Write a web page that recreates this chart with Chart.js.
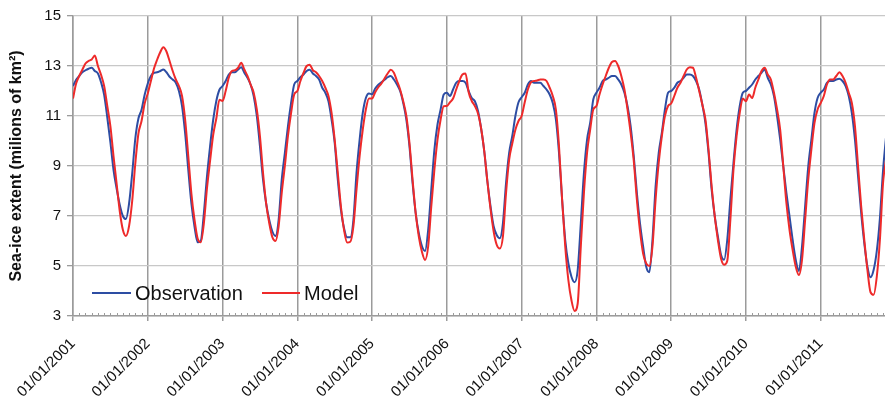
<!DOCTYPE html>
<html>
<head>
<meta charset="utf-8">
<script src="https://cdn.jsdelivr.net/npm/chart.js@4.4.1/dist/chart.umd.min.js"></script>
<style>
  html, body { margin: 0; padding: 0; background: #fff; }
  #wrap { width: 885px; height: 401px; }
</style>
</head>
<body>
<div id="wrap"><canvas id="chart" width="885" height="401"></canvas></div>
<script>
// years shown on the x axis (label "01/01/yyyy" at each)
var years = [2001, 2002, 2003, 2004, 2005, 2006, 2007, 2008, 2009, 2010, 2011];
var stepsPerYear = 24; // values read every half month from 01/01/2001
var xEnd = 2011.86;

// sea-ice extent, millions of km2, one row per year
var observation = [
  12.2, 12.45, 12.6, 12.75, 12.83, 12.89, 12.93, 12.8, 12.7, 12.35, 11.85, 10.95, 9.95, 8.85, 8.1, 7.45, 7.0, 6.88, 7.5, 8.7, 10.1, 10.9, 11.25, 11.85,
  12.3, 12.6, 12.73, 12.75, 12.8, 12.86, 12.75, 12.57, 12.46, 12.33, 12.0, 11.4, 10.3, 8.85, 7.5, 6.58, 5.95, 6.0, 7.1, 8.58, 9.79, 10.85, 11.6, 12.05,
  12.2, 12.4, 12.66, 12.75, 12.75, 12.86, 12.95, 12.73, 12.53, 12.26, 11.8, 11.0, 9.8, 8.45, 7.5, 6.84, 6.38, 6.2, 6.84, 8.45, 9.52, 10.6, 11.52, 12.26,
  12.4, 12.55, 12.66, 12.8, 12.85, 12.7, 12.6, 12.46, 12.13, 11.93, 11.59, 10.86, 9.92, 8.45, 7.25, 6.51, 6.15, 6.15, 6.84, 8.72, 10.05, 11.12, 11.72, 11.9,
  11.87, 12.1, 12.25, 12.35, 12.45, 12.55, 12.6, 12.46, 12.26, 12.0, 11.52, 10.86, 9.79, 8.32, 7.11, 6.31, 5.8, 5.6, 6.44, 8.05, 9.65, 10.66, 11.26, 11.86,
  11.93, 11.8, 12.06, 12.33, 12.4, 12.4, 12.33, 12.0, 11.72, 11.59, 11.2, 10.5, 9.6, 8.4, 7.4, 6.6, 6.24, 6.11, 6.71, 8.32, 9.52, 10.2, 11.0, 11.55,
  11.75, 11.93, 12.26, 12.4, 12.33, 12.33, 12.33, 12.2, 12.06, 11.86, 11.52, 10.86, 9.52, 7.65, 6.04, 5.11, 4.57, 4.35, 4.84, 6.71, 8.72, 10.05, 10.72, 11.66,
  11.93, 12.13, 12.4, 12.46, 12.53, 12.6, 12.6, 12.46, 12.26, 11.93, 11.39, 10.59, 9.39, 7.92, 6.71, 5.78, 4.97, 4.75, 6.04, 8.18, 9.52, 10.32, 11.26, 11.93,
  12.0, 12.13, 12.33, 12.4, 12.53, 12.66, 12.66, 12.6, 12.4, 12.06, 11.46, 10.72, 9.52, 8.05, 6.98, 6.18, 5.45, 5.25, 6.04, 7.65, 9.12, 10.45, 11.39, 11.93,
  12.0, 12.13, 12.26, 12.46, 12.6, 12.73, 12.86, 12.53, 12.26, 11.8, 11.0, 10.05, 8.98, 7.92, 6.98, 6.04, 5.24, 4.8, 5.78, 7.38, 8.98, 10.05, 11.12, 11.72,
  11.93, 12.06, 12.33, 12.4, 12.4, 12.46, 12.49, 12.4, 12.2, 11.8, 11.12, 10.05, 8.58, 7.11, 5.9, 4.97, 4.55, 4.85, 5.6, 6.9, 8.8, 10.2
];

var model = [
  11.7, 12.3, 12.6, 12.85, 13.1, 13.2, 13.26, 13.42, 13.0, 12.65, 12.2, 11.4, 10.6, 9.4, 8.3, 7.2, 6.45, 6.2, 6.6, 7.6, 9.1, 10.3, 10.8, 11.5,
  11.9, 12.4, 12.9, 13.25, 13.55, 13.75, 13.58, 13.2, 12.8, 12.46, 12.2, 11.8, 10.85, 9.4, 7.9, 6.85, 6.1, 5.95, 6.7, 8.1, 9.2, 10.25, 10.9, 11.65,
  11.6, 12.0, 12.53, 12.8, 12.83, 12.93, 13.13, 12.86, 12.6, 12.26, 11.93, 11.26, 10.2, 8.72, 7.5, 6.71, 6.15, 6.0, 6.58, 7.92, 9.0, 10.2, 11.12, 11.86,
  12.0, 12.4, 12.73, 13.0, 13.05, 12.83, 12.75, 12.6, 12.4, 12.13, 11.8, 11.12, 10.05, 8.72, 7.38, 6.44, 5.94, 5.97, 6.58, 8.05, 9.39, 10.45, 11.26, 11.7,
  11.7, 11.95, 12.15, 12.3, 12.5, 12.7, 12.85, 12.73, 12.4, 12.06, 11.59, 11.0, 9.92, 8.45, 7.11, 6.18, 5.57, 5.24, 5.78, 7.38, 8.85, 10.05, 10.86, 11.39,
  11.4, 11.55, 11.7, 12.06, 12.4, 12.66, 12.7, 11.95, 11.6, 11.4, 11.1, 10.5, 9.6, 8.4, 7.3, 6.4, 5.85, 5.7, 6.18, 7.92, 9.25, 9.9, 10.45, 10.8,
  11.0, 11.55, 12.06, 12.35, 12.4, 12.42, 12.46, 12.46, 12.4, 12.13, 11.8, 11.26, 9.79, 7.65, 5.78, 4.44, 3.63, 3.2, 3.5, 5.78, 7.92, 9.52, 10.45, 11.26,
  11.4, 11.86, 12.26, 12.6, 12.93, 13.16, 13.2, 13.0, 12.6, 12.06, 11.26, 10.32, 9.2, 7.65, 6.4, 5.5, 5.1, 5.0, 5.78, 7.65, 9.12, 10.19, 11.0, 11.4,
  11.5, 11.8, 12.13, 12.33, 12.6, 12.86, 12.95, 12.93, 12.53, 12.0, 11.46, 10.86, 9.65, 8.18, 6.98, 6.04, 5.3, 5.05, 5.2, 6.84, 8.85, 10.19, 11.12, 11.7,
  11.59, 11.86, 11.72, 12.13, 12.46, 12.8, 12.93, 12.66, 12.46, 11.93, 11.26, 10.45, 8.98, 7.51, 6.44, 5.64, 4.97, 4.64, 5.24, 6.84, 8.45, 9.65, 10.72, 11.26,
  11.52, 11.8, 12.26, 12.46, 12.46, 12.6, 12.75, 12.6, 12.33, 11.93, 11.52, 10.59, 8.98, 7.38, 6.04, 4.84, 3.95, 3.85, 4.57, 6.04, 8.3, 9.3
];

function toPoints(values) {
  return values.map(function(v, i) {
    return { x: years[0] + i / stepsPerYear, y: v };
  });
}

var fontFamily = "'Liberation Sans', Arial, Helvetica, sans-serif";

// legend inside the plot + monthly minor ticks on the bottom axis
var extras = {
  id: 'extras',
  afterDraw: function(chart) {
    var ctx = chart.ctx;
    var area = chart.chartArea;
    var xs = chart.scales.x;
    ctx.save();
    ctx.strokeStyle = '#9b9b9b';
    ctx.lineWidth = 1;
    for (var y = years[0]; y <= xEnd; y++) {
      for (var m = 1; m < 12; m++) {
        var v = y + m / 12;
        if (v > xEnd) break;
        var px = Math.round(xs.getPixelForValue(v)) + 0.5;
        ctx.beginPath();
        ctx.moveTo(px, area.bottom - 3);
        ctx.lineTo(px, area.bottom);
        ctx.stroke();
      }
    }

    var entries = [{ x: 19, w: 39 }, { x: 189, w: 38 }];
    var ly = area.bottom - 23;
    ctx.font = '20px ' + fontFamily;
    ctx.textBaseline = 'middle';
    ctx.fillStyle = '#111';
    chart.data.datasets.forEach(function(ds, i) {
      var e = entries[i];
      ctx.strokeStyle = ds.borderColor;
      ctx.lineWidth = 2;
      ctx.beginPath();
      ctx.moveTo(area.left + e.x, ly);
      ctx.lineTo(area.left + e.x + e.w, ly);
      ctx.stroke();
      ctx.fillText(ds.label, area.left + e.x + e.w + 4, ly + 1);
    });
    ctx.restore();
  }
};

new Chart(document.getElementById('chart'), {
  type: 'line',
  data: {
    datasets: [
      {
        label: 'Observation',
        data: toPoints(observation),
        borderColor: '#2d4da3',
        borderWidth: 2,
        pointRadius: 0,
        cubicInterpolationMode: 'monotone',
        order: 1
      },
      {
        label: 'Model',
        data: toPoints(model),
        borderColor: '#ee2a2a',
        borderWidth: 2,
        pointRadius: 0,
        cubicInterpolationMode: 'monotone',
        order: 0
      }
    ]
  },
  options: {
    responsive: false,
    animation: false,
    layout: { padding: { left: 0, top: 16, right: 0, bottom: 0 } },
    plugins: {
      legend: { display: false },
      tooltip: { enabled: false }
    },
    scales: {
      x: {
        type: 'linear',
        min: years[0],
        max: xEnd,
        afterBuildTicks: function(scale) {
          scale.ticks = years.map(function(y) { return { value: y }; });
        },
        afterFit: function(scale) { scale.height = 85; },
        ticks: {
          minRotation: 45,
          maxRotation: 45,
          padding: 14,
          color: '#111',
          font: { family: fontFamily, size: 15 },
          callback: function(v) { return '01/01/' + v; }
        },
        grid: { color: '#9b9b9b', lineWidth: 1.5, tickLength: 5 },
        border: { color: '#9b9b9b', width: 1.5 }
      },
      y: {
        min: 3,
        max: 15,
        afterFit: function(scale) { scale.width = 73; },
        ticks: {
          stepSize: 2,
          padding: 6,
          color: '#111',
          font: { family: fontFamily, size: 15 }
        },
        grid: { color: '#c8c8c8', lineWidth: 1.3, tickLength: 6, tickColor: '#9b9b9b' },
        border: { color: '#9b9b9b', width: 1.5 },
        title: {
          display: true,
          text: 'Sea-ice extent (milions of km²)',
          color: '#111',
          font: { family: fontFamily, size: 16, weight: 'bold' },
          padding: { top: 7, bottom: 10 }
        }
      }
    }
  },
  plugins: [extras]
});
</script>
</body>
</html>
